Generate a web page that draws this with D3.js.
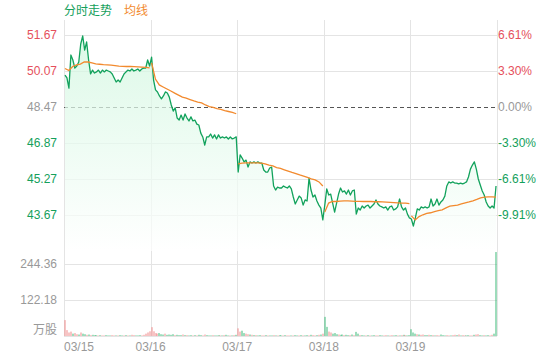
<!DOCTYPE html>
<html>
<head>
<meta charset="utf-8">
<script src="https://cdn.jsdelivr.net/npm/d3@7"></script>
<style>
body{margin:0;background:#fff;}
svg{display:block;font-family:"Liberation Sans",Arial,"Noto Sans CJK SC",sans-serif;}
</style>
</head>
<body>
<svg id="chart" width="560" height="360"></svg>
<script>
"use strict";

var days = ["03/15", "03/16", "03/17", "03/18", "03/19"];
var priceTicks = [51.67, 50.07, 48.47, 46.87, 45.27, 43.67];
var pctTicks = ["6.61%", "3.30%", "0.00%", "-3.30%", "-6.61%", "-9.91%"];
var volTicks = [244.36, 122.18];
var prevClose = 48.47;

// price, one row per day
var price = [
    [49.89, 49.76, 49.31, 50.78, 50.56, 50.20, 50.29, 50.47, 51.27, 51.63, 51.00, 51.36, 50.56, 49.94, 50.11, 49.98, 50.03, 50.11, 49.98, 50.11, 50.03, 50.11, 50.07, 50.03, 49.94, 49.76, 49.58, 49.67, 49.58, 49.76, 49.94, 50.03, 50.11, 50.07, 50.16, 50.07, 50.11, 50.16, 50.07, 50.16, 50.20, 50.20, 50.56, 50.29],
    [50.69, 49.67, 49.23, 49.14, 48.96, 48.83, 48.96, 49.14, 49.09, 48.91, 48.56, 48.29, 48.43, 47.98, 47.89, 48.11, 47.89, 48.16, 47.98, 47.85, 48.03, 47.85, 47.89, 47.71, 47.67, 47.31, 47.14, 46.78, 47.14, 47.14, 47.27, 47.09, 47.23, 47.05, 47.23, 47.09, 47.14, 47.09, 47.14, 47.05, 47.14, 47.05, 47.09, 47.14],
    [45.58, 46.34, 46.20, 46.03, 46.11, 45.80, 46.03, 45.98, 46.03, 45.98, 46.03, 45.98, 45.98, 45.67, 45.58, 45.58, 45.76, 45.80, 44.96, 44.78, 44.91, 44.87, 44.87, 44.96, 44.91, 44.87, 44.96, 44.83, 44.47, 44.16, 44.34, 44.51, 44.43, 44.11, 44.34, 44.29, 45.31, 44.78, 44.47, 44.56, 44.29, 44.11, 43.98, 43.45],
    [44.11, 44.83, 44.56, 44.60, 44.20, 43.80, 44.20, 44.60, 44.87, 44.69, 44.74, 44.60, 44.78, 44.56, 44.74, 44.78, 43.71, 43.98, 43.89, 44.07, 43.98, 44.07, 44.11, 43.98, 44.07, 44.16, 44.34, 44.16, 44.07, 44.03, 43.98, 44.03, 43.89, 44.03, 44.07, 43.89, 43.94, 44.03, 44.38, 44.03, 43.89, 43.98, 43.71, 43.54],
    [43.49, 43.18, 43.54, 43.94, 43.89, 44.03, 43.98, 44.03, 43.98, 44.03, 44.38, 44.07, 44.16, 44.38, 44.11, 44.25, 44.34, 44.51, 44.96, 45.14, 45.09, 45.14, 45.09, 45.09, 45.05, 45.09, 45.05, 45.09, 45.14, 45.36, 45.71, 45.89, 46.03, 45.71, 45.27, 45.00, 44.74, 44.56, 44.25, 44.07, 43.98, 44.07, 43.98, 44.96]
];

// average line, one row per day
var avg = [
    [50.18, 50.09, 50.27, 50.34, 50.38, 50.47, 50.47, 50.43, 50.39, 50.37, 50.35, 50.34, 50.33, 50.31, 50.29, 50.28, 50.27, 50.27, 50.26, 50.25, 50.24, 50.23, 50.21],
    [50.43, 49.71, 49.45, 49.36, 49.27, 49.18, 49.09, 49.00, 48.91, 48.86, 48.80, 48.74, 48.69, 48.65, 48.56, 48.49, 48.45, 48.40, 48.36, 48.31, 48.27, 48.23, 48.17],
    [45.94, 45.98, 45.99, 45.99, 45.99, 45.99, 45.98, 45.94, 45.89, 45.85, 45.78, 45.74, 45.68, 45.62, 45.56, 45.51, 45.45, 45.40, 45.34, 45.28, 45.23, 45.14, 44.96],
    [43.80, 44.20, 44.27, 44.27, 44.29, 44.30, 44.30, 44.29, 44.28, 44.28, 44.27, 44.27, 44.27, 44.26, 44.26, 44.25, 44.24, 44.23, 44.22, 44.21, 44.20, 44.20, 44.18],
    [43.63, 43.45, 43.60, 43.68, 43.74, 43.77, 43.82, 43.86, 43.90, 43.99, 44.06, 44.09, 44.11, 44.16, 44.21, 44.25, 44.30, 44.36, 44.43, 44.46, 44.48, 44.48, 44.46]
];

// volume (万股), one row per day
var vol = [
    [54, 20, 12, 15, 8, 10, 6, 5, 12, 8, 6, 4, 5, 3, 4, 3, 3, 2, 3, 2, 2, 3, 2, 2, 3, 2, 2, 2, 3, 2, 2, 3, 2, 2, 4, 3, 2, 2, 3, 2, 4, 8, 12, 16],
    [30, 16, 10, 8, 10, 6, 5, 8, 4, 5, 4, 6, 3, 4, 3, 3, 5, 3, 3, 2, 3, 2, 3, 2, 4, 3, 2, 5, 3, 2, 2, 3, 2, 2, 3, 2, 2, 3, 4, 2, 2, 2, 3, 4],
    [26, 15, 18, 10, 8, 6, 5, 4, 3, 3, 2, 3, 2, 2, 3, 2, 2, 2, 3, 2, 2, 3, 2, 2, 3, 2, 2, 2, 2, 3, 2, 2, 3, 2, 2, 3, 2, 4, 3, 2, 3, 4, 5, 8],
    [65, 31, 15, 12, 8, 10, 6, 5, 4, 5, 3, 4, 3, 3, 5, 3, 14, 8, 3, 3, 2, 2, 3, 2, 2, 3, 2, 2, 3, 2, 2, 3, 2, 2, 3, 2, 3, 2, 2, 3, 4, 3, 2, 3],
    [23, 12, 8, 6, 5, 4, 5, 3, 3, 4, 3, 3, 2, 3, 2, 5, 3, 2, 3, 2, 2, 3, 4, 3, 5, 2, 3, 2, 2, 3, 2, 2, 4, 5, 6, 3, 2, 3, 2, 3, 2, 4, 8, 285]
];
// r = up bar, g = down bar
var volSide = [
    "rrrrgrrgrggrgrgggrgrrgggrrgrggrgrgrrgggrrrrr",
    "rrrrgggrggggrgggrgrggrgrggrrgggrgggrgrggrgrg",
    "rrggrrgrgrggrrgrggrgrggrgrrgrggrgrggrgrrgrgr",
    "ggrrgggrggrggrgrggrggrgrggrrggrrgrrggrgrgrgg",
    "gggrgrrggrgrgrrgggrrgrrgrgrrggrrgrrggrggrrgg"
];

var W = 560, H = 360,
    left = 64, right = 497,
    priceTop = 20, priceBottom = 251,
    volBottom = 336,
    perDay = 44;

var red = "#e5505c", green = "#14a05b", gray = "#999", orange = "#f28a2e";

var svg = d3.select("#chart");

var x = d3.scaleLinear().domain([0, days.length * perDay]).range([left, right]);
var y = d3.scaleLinear().domain([43.67, 51.67]).range([215, 35]);
var yv = d3.scaleLinear().domain([0, 244.36]).range([volBottom, 264]);

var series = [];
price.forEach(function(row, d){
    row.forEach(function(p, i){ series.push({g: d * perDay + i + 0.5, p: p}); });
});

// gradient for the area
var defs = svg.append("defs");
var grad = defs.append("linearGradient")
    .attr("id", "fillGrad")
    .attr("gradientUnits", "userSpaceOnUse")
    .attr("x1", 0).attr("x2", 0)
    .attr("y1", priceTop).attr("y2", priceBottom);
grad.append("stop").attr("offset", "0%").attr("stop-color", "#ccf6dc").attr("stop-opacity", 0.72);
grad.append("stop").attr("offset", "100%").attr("stop-color", "#ffffff").attr("stop-opacity", 0.72);

// grid
var grid = svg.append("g").attr("stroke", "#e4e4e4").attr("stroke-width", 1);
grid.selectAll("line.h")
    .data(priceTicks.filter(function(t){ return t !== prevClose; }))
    .enter().append("line")
    .attr("x1", left).attr("x2", right)
    .attr("y1", function(t){ return Math.round(y(t)) + 0.5; })
    .attr("y2", function(t){ return Math.round(y(t)) + 0.5; });
grid.selectAll("line.v")
    .data(volTicks.concat([0]))
    .enter().append("line")
    .attr("x1", left).attr("x2", right)
    .attr("y1", function(t){ return Math.round(yv(t)) + 0.5; })
    .attr("y2", function(t){ return Math.round(yv(t)) + 0.5; });
grid.selectAll("line.d")
    .data(d3.range(days.length + 1))
    .enter().append("line")
    .attr("x1", function(d){ return Math.round(x(d * perDay)) + 0.5; })
    .attr("x2", function(d){ return Math.round(x(d * perDay)) + 0.5; })
    .attr("y1", priceTop).attr("y2", volBottom);

// previous close
svg.append("line")
    .attr("x1", left).attr("x2", right)
    .attr("y1", Math.round(y(prevClose)) + 0.5)
    .attr("y2", Math.round(y(prevClose)) + 0.5)
    .attr("stroke", "#555")
    .attr("stroke-dasharray", "4,3");

// area + lines
svg.append("path")
    .datum(series)
    .attr("fill", "url(#fillGrad)")
    .attr("d", d3.area()
        .x(function(d){ return x(d.g); })
        .y0(priceBottom)
        .y1(function(d){ return y(d.p); }));

svg.append("path")
    .datum(series)
    .attr("fill", "none")
    .attr("stroke", "#12a25c")
    .attr("stroke-width", 1.3)
    .attr("stroke-linejoin", "round")
    .attr("d", d3.line()
        .x(function(d){ return x(d.g); })
        .y(function(d){ return y(d.p); }));

var avgLine = d3.line()
    .x(function(d){ return x(d.g); })
    .y(function(d){ return y(d.p); });
avg.forEach(function(row, d){
    var n = row.length;
    var pts = row.map(function(p, j){
        return {g: d * perDay + 0.5 + j * (perDay - 1) / (n - 1), p: p};
    });
    svg.append("path")
        .datum(pts)
        .attr("fill", "none")
        .attr("stroke", orange)
        .attr("stroke-width", 1.3)
        .attr("d", avgLine);
});

// volume bars
var bars = [];
vol.forEach(function(row, d){
    row.forEach(function(v, i){
        bars.push({g: d * perDay + i + 0.5, v: v, up: volSide[d].charAt(i) === "r"});
    });
});
svg.append("g").selectAll("rect")
    .data(bars)
    .enter().append("rect")
    .attr("x", function(d){ return Math.round(x(d.g)) - 0.5; })
    .attr("width", 1)
    .attr("y", function(d){ return yv(d.v); })
    .attr("height", function(d){ return volBottom - yv(d.v); })
    .attr("fill", function(d){ return d.up ? "#f08a8a" : "#3cba78"; });

// labels
var lab = svg.append("g").attr("font-size", 12);
function tickColor(i){ return i < 2 ? red : (i === 2 ? gray : green); }

lab.selectAll("text.l")
    .data(priceTicks)
    .enter().append("text")
    .attr("x", 57).attr("y", function(t){ return y(t); })
    .attr("dy", "0.35em")
    .attr("text-anchor", "end")
    .attr("fill", function(t, i){ return tickColor(i); })
    .text(function(t){ return t.toFixed(2); });

lab.selectAll("text.r")
    .data(pctTicks)
    .enter().append("text")
    .attr("x", 498).attr("y", function(t, i){ return y(priceTicks[i]); })
    .attr("dy", "0.35em")
    .attr("fill", function(t, i){ return tickColor(i); })
    .text(function(t){ return t; });

lab.selectAll("text.v")
    .data(volTicks)
    .enter().append("text")
    .attr("x", 57).attr("y", function(t){ return yv(t); })
    .attr("dy", "0.35em")
    .attr("text-anchor", "end")
    .attr("fill", gray)
    .text(function(t){ return t.toFixed(2); });

lab.append("text")
    .attr("x", 57).attr("y", 330)
    .attr("dy", "0.35em")
    .attr("text-anchor", "end")
    .attr("fill", gray)
    .text("万股");

lab.selectAll("text.x")
    .data(days)
    .enter().append("text")
    .attr("x", function(d, i){ return i === 0 ? left : x(i * perDay); })
    .attr("y", 347)
    .attr("dy", "0.35em")
    .attr("text-anchor", function(d, i){ return i === 0 ? "start" : "middle"; })
    .attr("fill", gray)
    .text(function(d){ return d; });

// legend
lab.append("text").attr("x", 64).attr("y", 11).attr("dy", "0.35em")
    .attr("fill", green).text("分时走势");
lab.append("text").attr("x", 124).attr("y", 11).attr("dy", "0.35em")
    .attr("fill", orange).text("均线");
</script>
</body>
</html>
